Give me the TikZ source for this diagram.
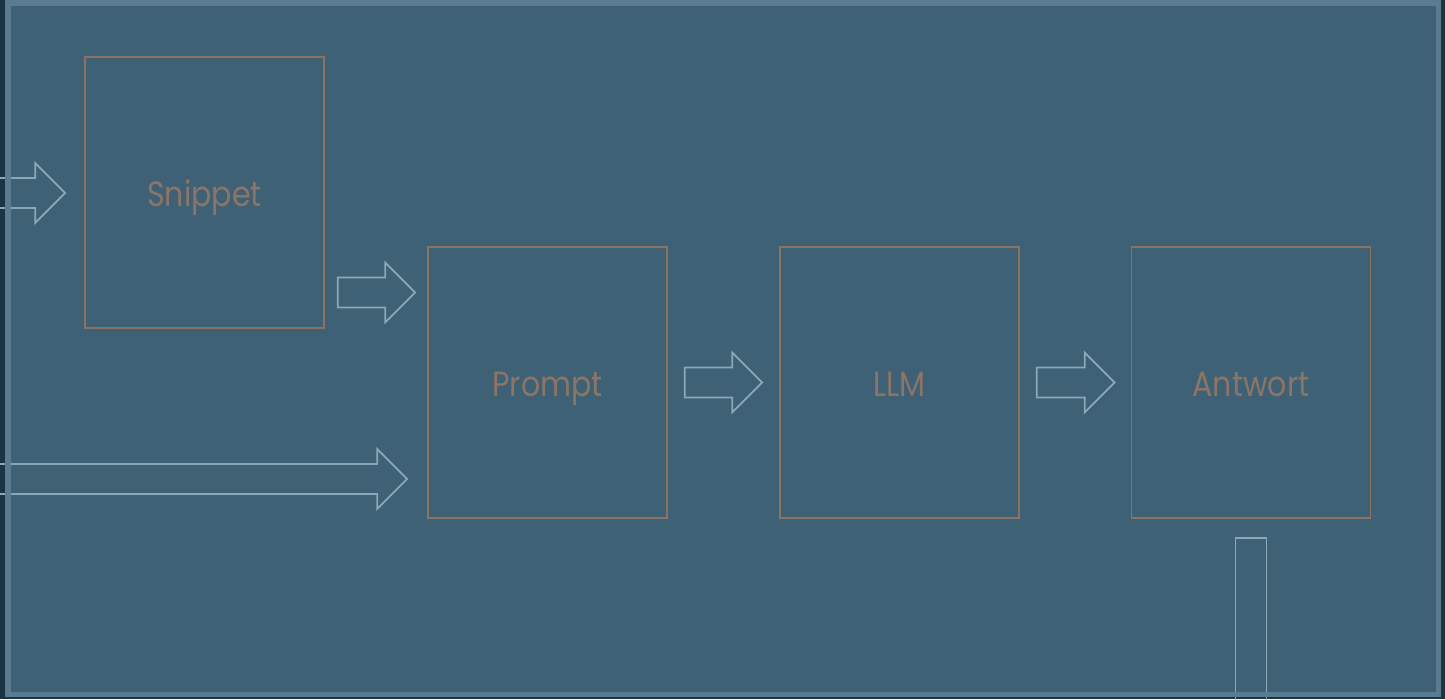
\documentclass[tikz,border=0pt]{standalone}
\usepackage{fontspec}
\setmainfont{Poppins}[FakeStretch=0.86]
\usetikzlibrary{calc}
\definecolor{bgdark}{HTML}{1B3444}
\definecolor{panel}{HTML}{3F6175}
\definecolor{panelborder}{HTML}{5A7B90}
\definecolor{boxline}{HTML}{8A7363}
\definecolor{boxtext}{HTML}{8C7566}
\definecolor{flowline}{HTML}{8AA8B9}
\tikzset{
  stage/.style={draw=boxline, line width=1.6pt, minimum width=239pt, minimum height=271pt,
    inner sep=0pt, text height=27pt, text depth=0pt,
    font=\fontsize{35}{40}\selectfont, text=boxtext},
  flow/.style={draw=flowline, line width=1.8pt, line join=miter},
}
\newcommand\harrow[2]{%
  \draw[flow] let \p1=(#1), \p2=(#2) in
    (\x1,\y1+15pt) -- (\x2-30pt,\y1+15pt) -- (\x2-30pt,\y1+30pt) -- (\x2,\y1)
    -- (\x2-30pt,\y1-30pt) -- (\x2-30pt,\y1-15pt) -- (\x1,\y1-15pt) -- cycle;}
\begin{document}
\begin{tikzpicture}[x=1pt,y=-1pt]
  \useasboundingbox (0,0) rectangle (1445,699);
  \clip (0,0) rectangle (1445,699);
  \fill[bgdark] (0,0) rectangle (1445,699);
  \fill[panel] (8,3) rectangle (1438.5,694.5);
  % stages
  \node[stage] (snippet) at (204.5,192.5) {Snippet};
  \node[stage] (prompt)  at (547.5,382.5) {Prompt};
  \node[stage] (llm)     at (899.5,382.5) {LLM};
  \node[stage] (antwort) at (1251,382.5)  {Antwort};
  % arrow end points
  \coordinate (in1)   at (-5,193);
  \coordinate (in1t)  at ($(snippet.west |- in1)+(-19,0)$);
  \coordinate (s2p)   at ($(snippet.east)+(13,100)$);
  \coordinate (s2pt)  at ($(prompt.west |- s2p)+(-12,0)$);
  \coordinate (p2l)   at ($(prompt.east)+(17,0)$);
  \coordinate (p2lt)  at ($(llm.west)+(-17,0)$);
  \coordinate (l2a)   at ($(llm.east)+(17,0)$);
  \coordinate (l2at)  at ($(antwort.west)+(-16,0)$);
  \coordinate (in2)   at (-5,479);
  \coordinate (in2t)  at ($(prompt.west |- in2)+(-20,0)$);
  % arrows
  \harrow{in1}{in1t}
  \harrow{s2p}{s2pt}
  \harrow{p2l}{p2lt}
  \harrow{l2a}{l2at}
  \harrow{in2}{in2t}
  \coordinate (outtop) at ($(antwort.south)+(0,19)$);
  \draw[flow] ($(outtop)+(-15.5,200)$) -- ($(outtop)+(-15.5,0)$)
    -- ($(outtop)+(15.5,0)$) -- ($(outtop)+(15.5,200)$);
  % panel border
  \draw[panelborder, line width=5.5pt] (8,3) rectangle (1438.5,694.5);
\end{tikzpicture}
\end{document}
